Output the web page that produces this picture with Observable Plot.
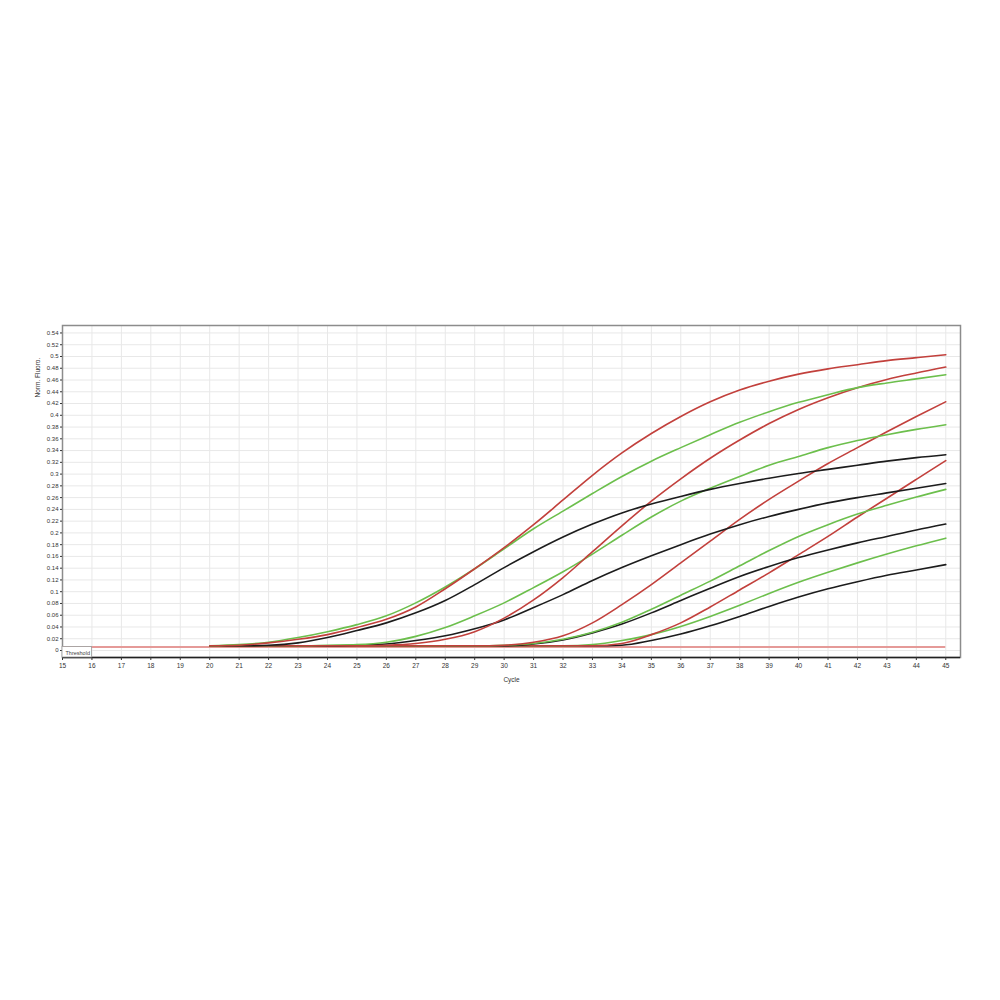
<!DOCTYPE html>
<html><head><meta charset="utf-8">
<script src="https://cdn.jsdelivr.net/npm/d3@7"></script>
<script src="https://cdn.jsdelivr.net/npm/@observablehq/plot@0.6"></script>
<style>body{margin:0;background:#fff}</style>
</head><body><div id="chart"></div>
<script>
// Cycles at which the amplification curves are read
const cycles = [20,21,22,23,24,25,26,27,28,29,30,31,32,33,34,35,36,37,38,39,40,41,42,43,44,45];

// Normalised fluorescence per curve
const red1   = [0.008,0.009,0.013,0.019,0.027,0.039,0.053,0.074,0.105,0.139,0.175,0.214,0.256,0.298,0.336,0.369,0.398,0.423,0.443,0.458,0.470,0.479,0.486,0.493,0.498,0.503];
const green1 = [0.008,0.010,0.014,0.022,0.032,0.044,0.059,0.081,0.108,0.139,0.173,0.207,0.237,0.267,0.296,0.322,0.345,0.367,0.388,0.406,0.422,0.435,0.447,0.455,0.462,0.469];
const black1 = [0.008,0.008,0.009,0.013,0.022,0.034,0.047,0.064,0.085,0.112,0.141,0.168,0.193,0.215,0.234,0.249,0.262,0.274,0.284,0.293,0.301,0.308,0.315,0.322,0.328,0.333];
const red2   = [0.008,0.008,0.008,0.008,0.008,0.008,0.009,0.012,0.019,0.032,0.055,0.086,0.124,0.168,0.212,0.254,0.292,0.327,0.358,0.386,0.410,0.430,0.447,0.461,0.472,0.482];
const green2 = [0.008,0.008,0.008,0.008,0.009,0.010,0.014,0.024,0.039,0.059,0.081,0.107,0.134,0.164,0.196,0.227,0.254,0.276,0.296,0.315,0.330,0.345,0.357,0.367,0.376,0.384];
const black2 = [0.008,0.008,0.008,0.008,0.008,0.009,0.011,0.017,0.025,0.037,0.052,0.073,0.095,0.119,0.141,0.161,0.180,0.198,0.214,0.228,0.240,0.251,0.260,0.268,0.276,0.284];
const red3   = [0.008,0.008,0.008,0.008,0.008,0.008,0.008,0.008,0.008,0.008,0.009,0.014,0.025,0.047,0.078,0.112,0.149,0.186,0.223,0.257,0.288,0.318,0.345,0.372,0.398,0.423];
const green3 = [0.008,0.008,0.008,0.008,0.008,0.008,0.008,0.008,0.008,0.008,0.009,0.012,0.019,0.031,0.048,0.070,0.094,0.118,0.144,0.170,0.194,0.214,0.232,0.247,0.261,0.274];
const black3 = [0.008,0.008,0.008,0.008,0.008,0.008,0.008,0.008,0.008,0.008,0.008,0.011,0.018,0.030,0.045,0.064,0.085,0.106,0.126,0.143,0.158,0.171,0.183,0.194,0.205,0.215];
const red4   = [0.008,0.008,0.008,0.008,0.008,0.008,0.008,0.008,0.008,0.008,0.008,0.008,0.008,0.008,0.012,0.027,0.047,0.074,0.103,0.132,0.163,0.194,0.227,0.259,0.291,0.323];
const green4 = [0.008,0.008,0.008,0.008,0.008,0.008,0.008,0.008,0.008,0.008,0.008,0.008,0.008,0.010,0.017,0.027,0.041,0.058,0.077,0.097,0.116,0.133,0.149,0.164,0.178,0.191];
const black4 = [0.008,0.008,0.008,0.008,0.008,0.008,0.008,0.008,0.008,0.008,0.008,0.008,0.008,0.008,0.009,0.017,0.028,0.042,0.058,0.075,0.091,0.105,0.117,0.128,0.137,0.146];

// Tick labels
const xTicks = [15,16,17,18,19,20,21,22,23,24,25,26,27,28,29,30,31,32,33,34,35,36,37,38,39,40,41,42,43,44,45];
const yTicks = [0,0.02,0.04,0.06,0.08,0.1,0.12,0.14,0.16,0.18,0.2,0.22,0.24,0.26,0.28,0.3,0.32,0.34,0.36,0.38,0.4,0.42,0.44,0.46,0.48,0.5,0.52,0.54];
const yLabel = "Norm. Fluoro.";
const xLabel = "Cycle";
const thresholdLabel = "Threshold";
const threshold = 0.006;
const xDomain = [15, 45.5];
const yDomain = [-0.0119, 0.5527];

const RED = "#c2403c", GREEN = "#6cbf4c", BLACK = "#1c1c1c";
const series = [
  {name: "black4", color: BLACK, values: black4},
  {name: "green4", color: GREEN, values: green4},
  {name: "red4",   color: RED,   values: red4},
  {name: "black3", color: BLACK, values: black3},
  {name: "green3", color: GREEN, values: green3},
  {name: "red3",   color: RED,   values: red3},
  {name: "black2", color: BLACK, values: black2},
  {name: "green2", color: GREEN, values: green2},
  {name: "red2",   color: RED,   values: red2},
  {name: "black1", color: BLACK, values: black1},
  {name: "green1", color: GREEN, values: green1},
  {name: "red1",   color: RED,   values: red1}
];
const data = series.flatMap(s => cycles.map((c, i) => ({cycle: c, value: s.values[i], name: s.name, color: s.color})));

const plot = Plot.plot({
  width: 1000, height: 1000,
  marginLeft: 62, marginRight: 40, marginTop: 325, marginBottom: 343,
  x: {domain: xDomain},
  y: {domain: yDomain},
  style: {fontFamily: "'Liberation Sans', Arial, sans-serif", fontSize: "7px", color: "#333", background: "#fff"},
  marks: [
    Plot.gridX(xTicks, {stroke: "#e8e8e8", strokeOpacity: 1}),
    Plot.gridY(yTicks, {stroke: "#e8e8e8", strokeOpacity: 1}),
    Plot.frame({stroke: "#8c8c8c", strokeWidth: 1.5}),
    Plot.ruleY([yDomain[0]], {stroke: "#222", strokeWidth: 1.5}),
    Plot.axisX(xTicks, {tickSize: 3, tickPadding: 3, label: xLabel, labelAnchor: "center", labelArrow: "none", labelOffset: 24, fontSize: 6.5}),
    Plot.axisY(yTicks, {tickSize: 2, tickPadding: 2, tickFormat: d => String(d), label: null, fontSize: 6}),
    Plot.text([yLabel], {frameAnchor: "top-left", rotate: -90, dx: -27, dy: 72, text: d => d, fontSize: 6.5, fill: "#333"}),
    Plot.ruleY([threshold], {x1: xTicks[0], x2: xTicks[xTicks.length - 1], stroke: "#e59a98", strokeWidth: 2}),
    Plot.rect([thresholdLabel], {x1: xTicks[0], x2: xTicks[1], y1: yDomain[0], y2: threshold, fill: "#fff", stroke: "#999", strokeWidth: 0.8}),
    Plot.text([thresholdLabel], {x: xTicks[0], y: yDomain[0], dx: 3, dy: -4, textAnchor: "start", text: d => d, fontSize: 5.5, fill: "#444"}),
    Plot.lineY(data, {x: "cycle", y: "value", z: "name", stroke: "color", strokeWidth: 1.6, curve: "monotone-x"})
  ]
});
document.getElementById("chart").append(plot);
</script>
</body></html>
